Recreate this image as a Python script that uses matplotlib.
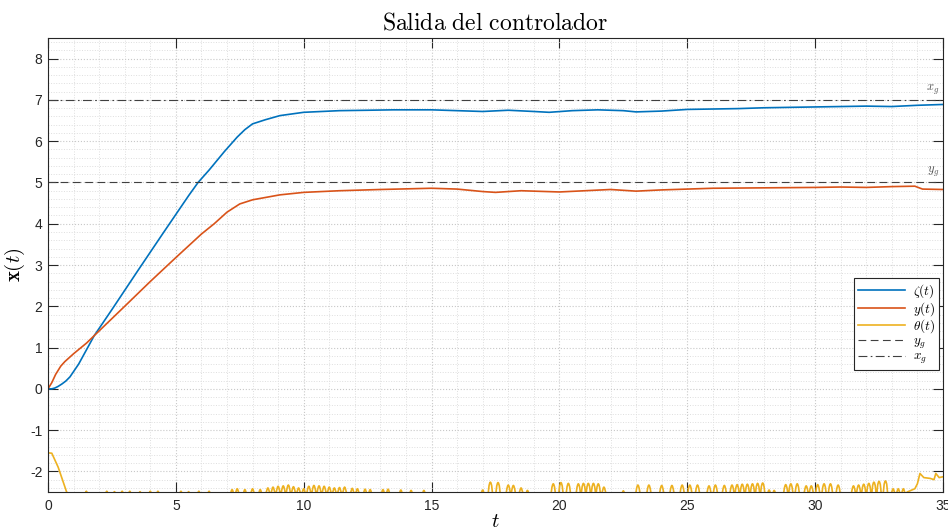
import numpy as np
import matplotlib
matplotlib.use('Agg')
import matplotlib.pyplot as plt
from matplotlib.ticker import MultipleLocator

plt.rcParams['mathtext.fontset'] = 'cm'
plt.rcParams['axes.unicode_minus'] = False
plt.rcParams['font.family'] = ['Liberation Sans', 'DejaVu Sans']

# zeta(t)
tZeta = [0, 0.15, 0.27, 0.4, 0.55, 0.7, 0.86, 1.2, 1.81, 2.5, 3.5, 4.5, 5.5, 5.87, 6.3, 6.9, 7.4, 7.7,
         8.0, 8.5, 9.07, 10, 11.4, 12.5, 13.5, 15, 16, 17, 18, 19, 19.6, 20.5, 21.5, 22.5, 23, 24, 25,
         26, 27, 28, 29, 30, 31, 32, 33, 34, 35]
zeta = [0, 0.0, 0.02, 0.06, 0.12, 0.19, 0.29, 0.6, 1.29, 1.92, 2.85, 3.77, 4.68, 5.0, 5.3, 5.75, 6.1,
        6.28, 6.42, 6.52, 6.62, 6.7, 6.74, 6.75, 6.76, 6.76, 6.74, 6.72, 6.75, 6.72, 6.7, 6.74, 6.76,
        6.74, 6.71, 6.73, 6.77, 6.78, 6.79, 6.81, 6.82, 6.83, 6.84, 6.85, 6.84, 6.87, 6.89]

# y(t)
tY = [0, 0.15, 0.3, 0.5, 0.66, 1.0, 1.51, 1.81, 3, 4, 5, 6, 6.5, 7, 7.5, 8, 9.07, 10, 11.4, 13, 15,
      16, 17, 17.5, 18.5, 19.5, 20, 21, 22, 23, 24, 25, 26, 28, 30, 31, 32, 33, 33.9, 34.2, 35]
yVal = [0, 0.15, 0.35, 0.55, 0.66, 0.85, 1.11, 1.29, 2.0, 2.6, 3.18, 3.75, 4.0, 4.28, 4.48, 4.58, 4.70,
        4.76, 4.80, 4.83, 4.86, 4.84, 4.78, 4.76, 4.80, 4.78, 4.77, 4.80, 4.83, 4.79, 4.82, 4.84, 4.86,
        4.87, 4.88, 4.89, 4.88, 4.90, 4.91, 4.84, 4.83]

# theta(t): inicio, picos de oscilacion y final
tThetaIni = [0, 0.15, 0.4, 0.73, 0.9]
thetaIni = [-1.55, -1.56, -1.9, -2.5, -2.6]
tPicos = [1.5, 2.3, 2.6, 2.9, 3.2, 3.6, 4.0, 4.3, 5.2, 5.5, 5.9, 6.3,
          7.2, 7.4, 7.7, 8.0, 8.3, 8.6, 8.8, 9.0, 9.2, 9.4, 9.6, 9.8, 10.0, 10.2, 10.4, 10.6, 10.8,
          11.0, 11.2, 11.4, 11.6, 11.9, 12.1, 12.4, 12.6, 13.1, 13.3, 13.8, 14.2, 14.7,
          17.0, 17.3, 17.6, 18.0, 18.2, 18.5, 18.75,
          19.76, 20.06, 20.35, 20.74, 20.94, 21.13, 21.33, 21.52, 21.74, 22.5,
          23.07, 23.5, 24.0, 24.4, 24.8, 25.1, 25.4, 25.85, 26.1, 26.45,
          26.75, 26.95, 27.15, 27.35, 27.55, 27.75, 27.95, 28.2, 28.4,
          28.85, 29.05, 29.3, 29.65, 29.85, 30.1, 30.35, 30.6, 30.9,
          31.5, 31.7, 31.9, 32.1, 32.3, 32.5, 32.75, 33.05, 33.25, 33.45]
thetaPicos = [-2.48, -2.48, -2.49, -2.48, -2.48, -2.49, -2.48, -2.48, -2.48, -2.49, -2.48, -2.48,
              -2.44, -2.42, -2.44, -2.42, -2.44, -2.40, -2.38, -2.36, -2.35, -2.33, -2.37, -2.40, -2.42,
              -2.36, -2.34, -2.35, -2.36, -2.38, -2.40, -2.39, -2.38, -2.41, -2.42, -2.43, -2.44,
              -2.44, -2.43, -2.45, -2.46, -2.46,
              -2.45, -2.26, -2.27, -2.33, -2.34, -2.40, -2.46,
              -2.30, -2.27, -2.29, -2.30, -2.29, -2.29, -2.29, -2.30, -2.38, -2.47,
              -2.33, -2.33, -2.34, -2.34, -2.33, -2.33, -2.33, -2.35, -2.33, -2.34,
              -2.33, -2.32, -2.31, -2.31, -2.30, -2.29, -2.28, -2.45, -2.46,
              -2.32, -2.30, -2.30, -2.35, -2.35, -2.32, -2.30, -2.30, -2.33,
              -2.35, -2.33, -2.31, -2.29, -2.26, -2.24, -2.23, -2.42, -2.42, -2.42]
tThetaFin = [33.6, 33.9, 34.0, 34.1, 34.25, 34.5, 34.65, 34.72, 34.85, 35]
thetaFin = [-2.5, -2.42, -2.3, -2.05, -2.15, -2.17, -2.2, -2.05, -2.15, -2.13]

yg = 5
xg = 7

# armar la serie theta (cada pico es una joroba que sube y baja)
tTheta = list(tThetaIni)
theta = list(thetaIni)
for tp, vp in zip(tPicos, thetaPicos):
    tTheta += [tp - 0.09, tp - 0.05, tp - 0.02, tp, tp + 0.02, tp + 0.05, tp + 0.09]
    theta += [-2.56, vp - 0.08, vp - 0.015, vp, vp - 0.015, vp - 0.08, -2.56]
tTheta += tThetaFin
theta += thetaFin

fig = plt.figure(figsize=(9.48, 5.31), dpi=100)
ax = fig.add_axes([0.0506, 0.0734, 0.9441, 0.855])

ax.plot(tZeta, zeta, color='#0072BD', lw=1.2, label=r'$\zeta(t)$')
ax.plot(tY, yVal, color='#D95319', lw=1.2, label=r'$y(t)$')
ax.plot(tTheta, theta, color='#EDB120', lw=1.2, label=r'$\theta(t)$')
ax.axhline(yg, color='#404040', lw=0.8, ls=(0, (7, 4)), label=r'$y_g$')
ax.axhline(xg, color='#404040', lw=0.8, ls=(0, (8, 3, 1.5, 3)), label=r'$x_g$')

ax.text(34.6, yg + 0.08, r'$y_g$', fontsize=9, color='#555555', ha='center', va='bottom')
ax.text(34.6, xg + 0.08, r'$x_g$', fontsize=9, color='#555555', ha='center', va='bottom')

ax.set_xlim(0, 35)
ax.set_ylim(-2.5, 8.5)
ax.xaxis.set_major_locator(MultipleLocator(5))
ax.xaxis.set_minor_locator(MultipleLocator(1))
ax.yaxis.set_major_locator(MultipleLocator(1))
ax.yaxis.set_minor_locator(MultipleLocator(0.2))

ax.grid(True, which='major', ls=':', color='#c8c8c8', lw=0.8)
ax.grid(True, which='minor', ls=':', color='#dedede', lw=0.7)
ax.tick_params(which='major', direction='in', length=7, width=0.8, top=True, right=True,
               labelsize=10, colors='#262626')
ax.tick_params(axis='y', which='major', pad=4)
ax.tick_params(axis='x', which='major', pad=5)
ax.tick_params(which='minor', length=0, top=True, right=True)
for s in ax.spines.values():
    s.set_color('#262626')
    s.set_linewidth(0.8)

ax.set_title(r'$\mathrm{Salida\ del\ controlador}$', fontsize=17, pad=6)
ax.set_xlabel(r'$t$', fontsize=15, labelpad=-1)
ax.set_ylabel(r'$\mathbf{x}(t)$', fontsize=15, labelpad=2)

leg = ax.legend(loc='upper right', bbox_to_anchor=(0.996, 0.471), fontsize=9.5, fancybox=False,
                framealpha=1, edgecolor='#262626', handlelength=3.6, borderpad=0.3,
                labelspacing=0.0, handletextpad=0.6, borderaxespad=0)
leg.get_frame().set_linewidth(0.8)

fig.savefig('out.png', dpi=100)
